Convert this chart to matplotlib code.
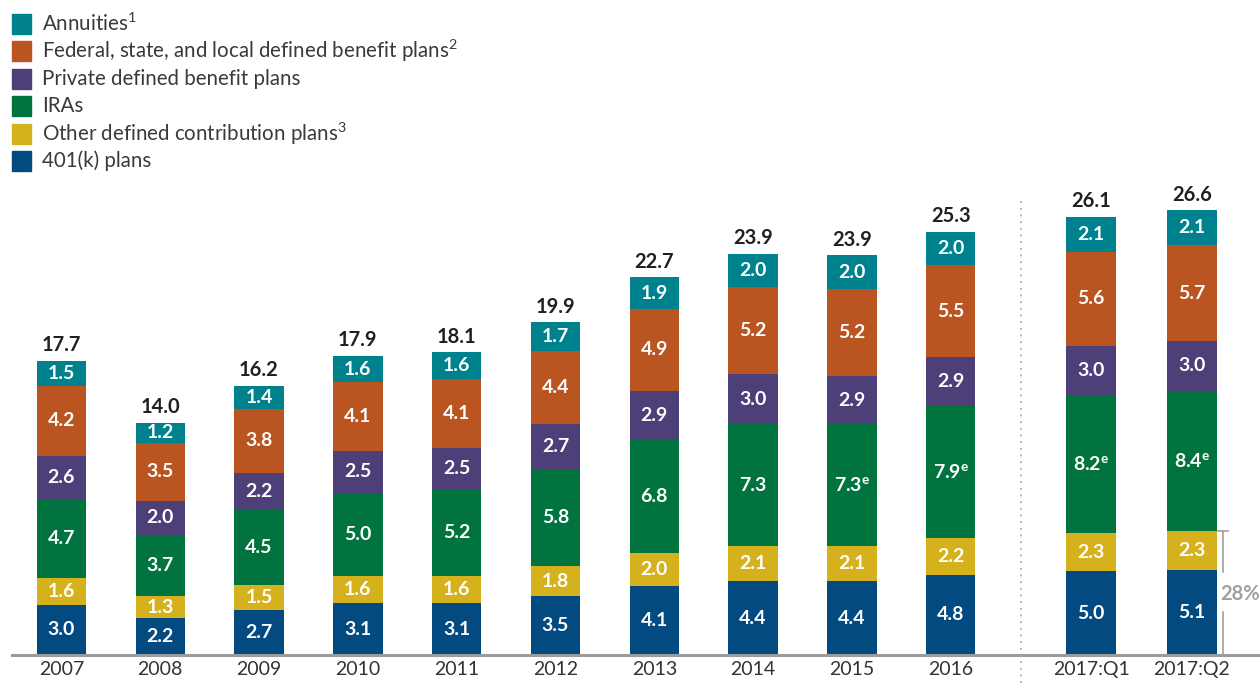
import matplotlib
matplotlib.use("Agg")
import matplotlib.pyplot as plt
from matplotlib.patches import Rectangle
import numpy as np

plt.rcParams['font.family'] = ['Lato', 'DejaVu Sans']
plt.rcParams['mathtext.fontset'] = 'custom'
plt.rcParams['mathtext.rm'] = 'Lato'
plt.rcParams['mathtext.bf'] = 'Lato:bold'
plt.rcParams['mathtext.it'] = 'Lato:italic'

categories = ["2007", "2008", "2009", "2010", "2011", "2012", "2013", "2014",
              "2015", "2016", "2017:Q1", "2017:Q2"]
k401 = [3.0, 2.2, 2.7, 3.1, 3.1, 3.5, 4.1, 4.4, 4.4, 4.8, 5.0, 5.1]
other_dc = [1.6, 1.3, 1.5, 1.6, 1.6, 1.8, 2.0, 2.1, 2.1, 2.2, 2.3, 2.3]
iras = [4.7, 3.7, 4.5, 5.0, 5.2, 5.8, 6.8, 7.3, 7.3, 7.9, 8.2, 8.4]
private_db = [2.6, 2.0, 2.2, 2.5, 2.5, 2.7, 2.9, 3.0, 2.9, 2.9, 3.0, 3.0]
gov_db = [4.2, 3.5, 3.8, 4.1, 4.1, 4.4, 4.9, 5.2, 5.2, 5.5, 5.6, 5.7]
annuities = [1.5, 1.2, 1.4, 1.6, 1.6, 1.7, 1.9, 2.0, 2.0, 2.0, 2.1, 2.1]
totals = [17.7, 14.0, 16.2, 17.9, 18.1, 19.9, 22.7, 23.9, 23.9, 25.3, 26.1, 26.6]
ira_estimated = [False] * 8 + [True] * 4
share_label = "28%"

series = [
    ("401(k) plans", k401, "#024A80"),
    ("Other defined contribution plans$^3$", other_dc, "#D5B21D"),
    ("IRAs", iras, "#00733F"),
    ("Private defined benefit plans", private_db, "#4D3F78"),
    ("Federal, state, and local defined benefit plans$^2$", gov_db, "#BA5421"),
    ("Annuities$^1$", annuities, "#00828E"),
]

W, H = 1260, 683
fig = plt.figure(figsize=(W / 100, H / 100), dpi=100)
ax = fig.add_axes([12 / W, (H - 655) / H, (W - 12) / W, 475 / H])

x = np.array(list(range(10)) + [10.42, 11.44])
bw = 0.5
bottom = np.zeros(len(categories))
for si, (name, vals, col) in enumerate(series):
    vals = np.array(vals)
    ax.bar(x, vals, bw, bottom=bottom, color=col, edgecolor='none', zorder=2)
    for i, v in enumerate(vals):
        lab = f"{v:.1f}"
        if name == "IRAs" and ira_estimated[i]:
            lab = lab + r"$^{\mathbf{e}}$"
        ax.text(x[i], bottom[i] + v / 2, lab, ha='center', va='center',
                color='white', fontsize=14, fontweight='bold', zorder=3)
    bottom += vals

for i, t in enumerate(totals):
    ax.annotate(f"{t:.1f}", (x[i], bottom[i]), xytext=(0, 4),
                textcoords='offset points', ha='center', va='bottom',
                fontsize=14.5, fontweight='bold', color='#231F20')

ax.set_xlim(-0.5, 12.13)
ax.set_ylim(0, 28.41)
for s in ['top', 'right', 'left']:
    ax.spines[s].set_visible(False)
ax.spines['bottom'].set_color('#9B9B9B')
ax.spines['bottom'].set_linewidth(2.2)
ax.set_yticks([])
ax.set_xticks(x)
ax.set_xticklabels(categories, fontsize=14, color='#333333')
ax.tick_params(axis='x', length=0, pad=4)

# dotted separator
ax.plot([9.71, 9.71], [-1.7, 27.2], ls=(0, (1, 3)), color='#A0A0A0',
        lw=1.2, clip_on=False, zorder=1)

# bracket for share
bx = x[-1] + 0.32
top_b = k401[-1] + other_dc[-1]
ax.plot([bx, bx], [top_b, 4.95], color='#A0A0A0', lw=1.2, clip_on=False)
ax.plot([bx, bx], [2.6, 0], color='#A0A0A0', lw=1.2, clip_on=False)
ax.plot([bx - 0.05, bx + 0.05], [top_b, top_b], color='#A0A0A0', lw=1.2, clip_on=False)
ax.text(bx + 0.17, 3.65, share_label, ha='center', va='center',
        fontsize=14.5, fontweight='bold', color='#A0A0A0', clip_on=False)

# legend
leg_order = list(reversed(series))
for j, (name, vals, col) in enumerate(leg_order):
    yc = 24 + j * 27.4
    fig.patches.append(Rectangle((12 / W, 1 - (yc + 10) / H), 19 / W, 20 / H,
                                 transform=fig.transFigure, color=col))
    fig.text(42 / W, 1 - yc / H, name, ha='left', va='center',
             fontsize=14.8, color='#3A3A3A')

fig.savefig("out.png", dpi=100)
